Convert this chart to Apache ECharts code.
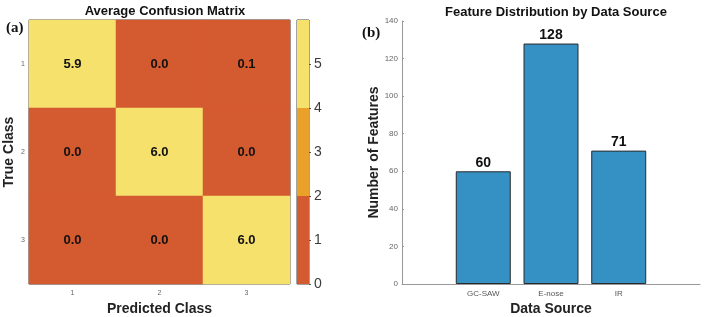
<!DOCTYPE html>
<html>
<head>
<meta charset="utf-8">
<script src="https://cdn.jsdelivr.net/npm/echarts@6/dist/echarts.min.js"></script>
<style>
  html, body { margin: 0; padding: 0; background: #fff; }
  #chart { width: 706px; height: 317px; }
</style>
</head>
<body>
<div id="chart"></div>
<script>
// confusion matrix (rows = true class, cols = predicted class)
const classLabels = ["1", "2", "3"];
const matrixRows = [
  [5.9, 0.0, 0.1],
  [0.0, 6.0, 0.0],
  [0.0, 0.0, 6.0],
];
// colour bar bands
const bandEdges = [0, 2, 4, 6];
const bandColors = ["#D45A30", "#E9A12A", "#F6E16C"];
const colorbarTicks = [0, 1, 2, 3, 4, 5];

// feature counts per source
const sources = ["GC-SAW", "E-nose", "IR"];
const featureCounts = [60, 128, 71];
const countTicks = [0, 20, 40, 60, 80, 100, 120, 140];

const FONT = "Liberation Sans, Arial, sans-serif";

const chart = echarts.init(document.getElementById("chart"));

const heatData = [];
matrixRows.forEach((row, r) => {
  row.forEach((v, c) => heatData.push([c, r, v]));
});

const bandSeries = bandColors.map((color, i) => ({
  type: "bar",
  xAxisIndex: 1,
  yAxisIndex: 1,
  stack: "cb",
  barWidth: "100%",
  silent: true,
  data: [bandEdges[i + 1] - bandEdges[i]],
  itemStyle: { color: color },
}));

const axisName = { fontFamily: FONT, fontSize: 14, fontWeight: "bold", color: "#222" };

const option = {
  backgroundColor: "#fff",
  animation: false,
  title: [
    {
      text: "Average Confusion Matrix",
      left: 160, top: 0, textAlign: "center",
      textStyle: { fontFamily: FONT, fontSize: 13, fontWeight: "bold", color: "#111" },
    },
    {
      text: "Feature Distribution by Data Source",
      left: 551, top: 1, textAlign: "center",
      textStyle: { fontFamily: FONT, fontSize: 13, fontWeight: "bold", color: "#111" },
    },
    {
      text: "(a)", left: 1, top: 16,
      textStyle: { fontFamily: "Liberation Serif, serif", fontSize: 15, fontWeight: "bold", color: "#111" },
    },
    {
      text: "(b)", left: 357, top: 21,
      textStyle: { fontFamily: "Liberation Serif, serif", fontSize: 15, fontWeight: "bold", color: "#111" },
    },
  ],
  visualMap: {
    type: "piecewise",
    show: false,
    seriesIndex: 0,
    pieces: bandColors.map((color, i) => ({
      gte: bandEdges[i],
      lt: bandEdges[i + 1] + (i === bandColors.length - 1 ? 0.001 : 0),
      color: color,
    })),
  },
  grid: [
    { left: 29, top: 20, width: 261, height: 264, show: true, borderColor: "#444", borderWidth: 1, backgroundColor: "transparent", outerBoundsMode: "none" },
    { left: 297, top: 20, width: 12, height: 264, show: true, borderColor: "#444", borderWidth: 1, backgroundColor: "transparent", outerBoundsMode: "none" },
    { left: 402, top: 21, width: 298, height: 263, outerBoundsMode: "none" },
  ],
  xAxis: [
    {
      gridIndex: 0,
      type: "category",
      data: classLabels,
      name: "Predicted Class",
      nameLocation: "middle",
      nameGap: 18,
      nameMoveOverlap: false,
      nameTextStyle: axisName,
      axisLine: { show: false },
      axisTick: { show: false },
      axisLabel: { fontFamily: FONT, fontSize: 7, color: "#666", margin: 6 },
      splitLine: { show: false },
    },
    {
      gridIndex: 1,
      type: "category",
      data: [""],
      axisLine: { show: false },
      axisTick: { show: false },
      axisLabel: { show: false },
    },
    {
      gridIndex: 2,
      type: "value",
      min: -0.2,
      max: 4.2,
      name: "Data Source",
      nameLocation: "middle",
      nameGap: 18,
      nameMoveOverlap: false,
      nameTextStyle: axisName,
      axisLine: { show: true, onZero: false, lineStyle: { color: "#999" } },
      axisTick: { show: false },
      splitLine: { show: false },
      axisLabel: {
        fontFamily: FONT, fontSize: 8, color: "#555", margin: 6,
        formatter: (v) => (Number.isInteger(v) && sources[v - 1]) ? sources[v - 1] : "",
      },
    },
  ],
  yAxis: [
    {
      gridIndex: 0,
      type: "category",
      data: classLabels,
      inverse: true,
      name: "True Class",
      nameLocation: "middle",
      nameGap: 13,
      nameMoveOverlap: false,
      nameTextStyle: axisName,
      axisLine: { show: false },
      axisTick: { show: false },
      axisLabel: { fontFamily: FONT, fontSize: 7, color: "#666", margin: 4 },
      splitLine: { show: false },
    },
    {
      gridIndex: 1,
      type: "value",
      position: "right",
      min: bandEdges[0],
      max: bandEdges[bandEdges.length - 1],
      interval: 1,
      axisLine: { show: false },
      axisTick: {
        show: true, length: 2, lineStyle: { color: "#555" },
        customValues: colorbarTicks,
      },
      splitLine: { show: false },
      axisLabel: {
        fontFamily: FONT, fontSize: 14, color: "#3a3a3a", margin: 5,
        formatter: (v) => colorbarTicks.includes(v) ? String(v) : "",
      },
    },
    {
      gridIndex: 2,
      type: "value",
      min: countTicks[0],
      max: countTicks[countTicks.length - 1],
      interval: 20,
      name: "Number of Features",
      nameLocation: "middle",
      nameGap: 21,
      nameMoveOverlap: false,
      nameTextStyle: axisName,
      axisLine: { show: true, onZero: false, lineStyle: { color: "#999" } },
      axisTick: { show: true, length: 2, inside: true, lineStyle: { color: "#999" } },
      splitLine: { show: false },
      axisLabel: { fontFamily: FONT, fontSize: 8, color: "#666", margin: 4 },
    },
  ],
  series: [
    {
      type: "heatmap",
      xAxisIndex: 0,
      yAxisIndex: 0,
      data: heatData,
      label: {
        show: true,
        formatter: (p) => p.value[2].toFixed(1),
        fontFamily: FONT,
        fontSize: 13,
        fontWeight: "bold",
        color: "#111",
      },
      itemStyle: { borderWidth: 0 },
    },
    ...bandSeries,
    {
      type: "bar",
      xAxisIndex: 2,
      yAxisIndex: 2,
      barWidth: 55,
      data: featureCounts.map((v, i) => [i + 1, v]),
      itemStyle: { color: "#3590C4", borderColor: "#2a2a2a", borderWidth: 1 },
      label: {
        show: true,
        position: "top",
        distance: 1,
        fontFamily: FONT,
        fontSize: 14,
        fontWeight: "bold",
        color: "#111",
      },
    },
  ],
};

chart.setOption(option);
</script>
</body>
</html>
